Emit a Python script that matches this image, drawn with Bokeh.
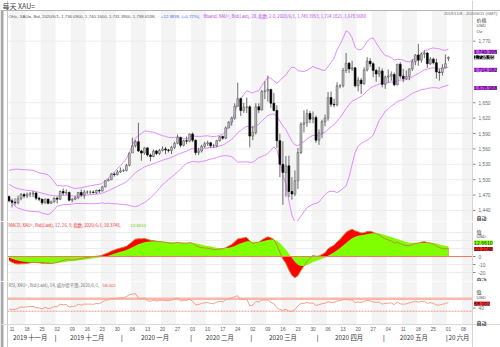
import numpy as np
import pandas as pd
from bokeh.plotting import figure
from bokeh.layouts import column
from bokeh.models import Range1d, Label, Span, ColumnDataSource
from bokeh.core.properties import value
from bokeh.embed import file_html
from bokeh.resources import INLINE

# ---------------- data ----------------
first_day = "2019-11-08"
last_day = "2020-06-01"
view_end = "2020-06-11"

opens = [1467,
 1459,1456,1455,1463,1471, 1468,1472,1472,1474,1464, 1462,1455,1462,1454,1457,
 1464,1462,1477,1474,1475, 1460,1462,1465,1475,1470, 1476,1476,1476,1475,1479,
 1478,1486,1498,1500,1511, 1510,1515,1517,1518,1528, 1552,1566,1574,1556,1552,
 1562,1548,1545,1556,1551, 1557,1560,1558,1557,1563, 1571,1582,1567,1576,1575,
 1589,1577,1553,1556,1565, 1570,1572,1566,1566,1576, 1584,1581,1601,1612,1620,
 1643,1658,1635,1641,1642, 1585,1592,1642,1636,1672, 1673,1676,1649,1635,1576,
 1530,1514,1527,1477,1472, 1498,1553,1608,1611,1629, 1618,1621,1577,1591,1613,
 1620,1660,1647,1646,1683, 1683,1713,1727,1716,1718, 1683,1694,1687,1714,1731,
 1726,1713,1706,1712,1686, 1700,1702,1705,1685,1725, 1702,1697,1701,1716,1730,
 1743,1733,1745,1747,1726, 1735,1728,1710,1709,1718, 1736.09]
highs = [1469,
 1463,1464,1469,1474,1474, 1475,1476,1478,1476,1467, 1463,1463,1463,1459,1466,
 1467,1479,1483,1481,1477, 1464,1468,1476,1481,1480, 1479,1479,1479,1481,1482,
 1488,1499,1502,1513,1514, 1519,1524,1521,1531,1553, 1582,1577,1611,1558,1563,
 1563,1551,1559,1558,1560, 1565,1564,1560,1566,1574, 1588,1584,1578,1584,1590,
 1592,1578,1562,1568,1574, 1576,1573,1570,1578,1585, 1586,1604,1614,1623,1649,
 1689,1660,1650,1660,1645, 1605,1649,1649,1675,1692, 1703,1677,1669,1645,1590,
 1575,1546,1547,1505,1518, 1562,1612,1635,1637,1634, 1633,1625,1598,1617,1627,
 1671,1672,1658,1690,1686, 1718,1747,1729,1732,1719, 1700,1698,1719,1739,1737,
 1729,1716,1720,1717,1703, 1715,1711,1709,1726,1729, 1716,1713,1717,1735,1745,
 1765,1748,1752,1749,1739, 1738,1736,1716,1725,1744, 1740.16]
lows = [1456,
 1446,1450,1452,1460,1464, 1464,1466,1466,1460,1458, 1451,1453,1452,1453,1455,
 1454,1460,1470,1471,1458, 1456,1460,1462,1466,1463, 1472,1472,1473,1472,1474,
 1477,1485,1497,1499,1506, 1508,1513,1515,1516,1526, 1552,1563,1554,1537,1549,
 1545,1536,1544,1548,1548, 1555,1550,1553,1550,1560, 1569,1563,1565,1569,1573,
 1573,1548,1548,1553,1562, 1566,1562,1562,1563,1574, 1578,1579,1600,1605,1617,
 1643,1624,1630,1630,1563, 1577,1588,1630,1635,1657, 1652,1640,1633,1562,1505,
 1451,1467,1466,1461,1468, 1482,1550,1592,1603,1610, 1610,1572,1568,1581,1604,
 1615,1642,1641,1643,1678, 1680,1708,1708,1712,1680, 1672,1667,1685,1711,1720,
 1700,1691,1700,1680,1677, 1689,1693,1682,1684,1697, 1690,1695,1694,1712,1723,
 1722,1728,1737,1718,1724, 1725,1697,1693,1703,1717, 1731.39]
closes = [1459,
 1456,1455,1463,1471,1468, 1472,1472,1474,1464,1462, 1455,1462,1454,1457,1464,
 1462,1477,1474,1475,1460, 1462,1465,1475,1470,1476, 1476,1476,1475,1479,1478,
 1486,1498,1500,1511,1510, 1515,1517,1518,1528,1552, 1566,1574,1556,1552,1562,
 1548,1545,1556,1551,1557, 1560,1558,1557,1563,1571, 1582,1567,1576,1575,1589,
 1577,1553,1556,1565,1570, 1572,1566,1566,1576,1584, 1581,1601,1612,1620,1643,
 1658,1635,1641,1642,1585, 1592,1642,1636,1672,1673, 1676,1649,1635,1576,1530,
 1514,1527,1477,1472,1498, 1553,1608,1611,1629,1618, 1621,1577,1591,1613,1620,
 1660,1647,1646,1683,1683, 1713,1727,1716,1718,1683, 1694,1687,1714,1731,1726,
 1713,1706,1712,1686,1700, 1702,1705,1685,1725,1702, 1697,1701,1716,1730,1743,
 1733,1745,1747,1726,1735, 1728,1710,1709,1718,1726.27, 1738.65]
# closes of the weeks before the window (indicator warm-up only, not drawn)
prior_closes = [1445,1440,1464,1474,1501,1500,1497,1511,1501,1516,1524,1513,1496,1506,1502,1498,
 1527,1527,1542,1539,1527,1520,
 1529,1547,1552,1519,1507,1499,1486,1497,1510,1488,1498,1502,1493,1506,1517,1522,1532,1504,
 1505,1497,1472,
 1479,1499,1506,1504,1493,1505,1506,1494,1488,1494,1482,1492,1492,1490,1484,1487,1492,1504,
 1505,1493,1487,1495,1513,
 1514,1509,1484,1490,1467]

month_labels = ["2019 十一月", "2019 十二月", "2020 一月", "2020 二月", "2020 三月", "2020 四月", "2020 五月", "20 六月"]
price_ticks = [1440, 1470, 1500, 1530, 1560, 1590, 1620, 1650, 1770]
price_tick_labels = ["1,440", "1,470", "1,500", "1,530", "1,560", "1,590", "1,620", "1,650", "1,770"]
macd_ticks = [-20, -10, 0]
rsi_ticks = [40]
rsi_bands = [70, 30]
bb_last = [1749.395, 1714.182, 1678.968]
last_close = 1738.65
macd_last, signal_last, rsi_last = 10.3748, 12.6610, 58.002

# ---------------- derived ----------------
dates = pd.bdate_range(first_day, last_day)
view_dates = pd.bdate_range(first_day, view_end)
n = len(dates)
xs = np.arange(n)
allc = np.array(prior_closes + closes, dtype=float)
s = pd.Series(allc)
ema20 = s.ewm(span=20, adjust=False).mean().values
bstd = np.full(len(allc), np.nan)
for t in range(19, len(allc)):
    dev = allc[t - 19:t + 1] - ema20[t]
    bstd[t] = np.sqrt((dev ** 2).sum() / 19)
mid = ema20[-n:]
upper = (ema20 + 2 * bstd)[-n:]
lower = (ema20 - 2 * bstd)[-n:]
ema12 = s.ewm(span=12, adjust=False).mean()
ema26 = s.ewm(span=26, adjust=False).mean()
macd_s = ema12 - ema26
sig = macd_s.ewm(span=9, adjust=False).mean().values[-n:]
macd = macd_s.values[-n:]
d = s.diff()
ag = d.clip(lower=0).ewm(alpha=1 / 14, adjust=False).mean()
al = (-d.clip(upper=0)).ewm(alpha=1 / 14, adjust=False).mean()
rsi = (100 - 100 / (1 + ag / al)).values[-n:]

o = np.array(opens, float); h = np.array(highs, float); l = np.array(lows, float); c = np.array(closes, float)
up = c >= o
src = ColumnDataSource(dict(x=xs, h=h, l=l, top=np.maximum(o, c), bot=np.minimum(o, c),
                            fill=np.where(up, "#c4c4c4", "#000000"),
                            line=np.where(up, "#5a5a5a", "#000000")))

mondays = [i for i, dd in enumerate(view_dates) if dd.weekday() == 0]
X0, X1 = -0.5, len(view_dates) - 1.0
week_left = [m - 0.5 for k, m in enumerate(mondays) if k % 2 == 0]
week_right = [min(m + 4.5, X1) for k, m in enumerate(mondays) if k % 2 == 0]
month_start = [i for i, dd in enumerate(view_dates) if i == 0 or dd.month != view_dates[i - 1].month]

W = 500
PLOT_L, PLOT_R = 7, 472          # pixel edges of the plotting area
PPU = (PLOT_R - PLOT_L) / (X1 - X0)
XL = X0 - PLOT_L / PPU
XR = X1 + (W - PLOT_R) / PPU
FONT = "Liberation Sans"
CJK = "Noto Sans CJK SC"


class Panel:
    def __init__(self, H, y_top_px, y_bot_px, v_top, v_bot):
        self.H = H
        scale = (y_bot_px - y_top_px) / (v_top - v_bot)
        self.k = scale
        top = v_top + y_top_px / scale
        bot = v_bot - (H - y_bot_px) / scale
        self.v_top, self.v_bot = v_top, v_bot
        p = figure(width=W, height=H, x_range=Range1d(XL, XR), y_range=Range1d(bot, top),
                   output_backend="svg", toolbar_location=None,
                   min_border=0, x_axis_location=None, y_axis_location=None)
        p.grid.visible = False
        p.outline_line_color = None
        p.background_fill_color = "white"
        p.border_fill_color = "white"
        p.quad(left=week_left, right=week_right, bottom=v_bot, top=v_top,
               fill_color="#f4f4f4", line_color=None, level="underlay")
        self.p = p

    def y(self, Y):
        return self.p.y_range.end - Y / self.k

    def grid(self, ticks):
        self.p.segment(x0=[X0] * len(ticks), x1=[X1] * len(ticks), y0=ticks, y1=ticks,
                       line_color="#ececec", line_width=1, level="underlay")

    def axis(self, ticks, labels, size=4.8, color="#6a6a6a"):
        p = self.p
        p.segment(x0=[X1] * len(ticks), x1=[X1 + 3 / PPU] * len(ticks), y0=ticks, y1=ticks,
                  line_color="#888888", line_width=1)
        p.text(x=[X1 + 6 / PPU] * len(ticks), y=ticks, text=labels, text_font=value(FONT),
               text_font_size=value(f"{size}px"), text_color=color, text_align="left",
               text_baseline="middle")

    def lab(self, x, Y, text, size=4.8, color="#555555", align="left", bg=None, font=FONT,
            style="normal", xdata=False, ydata=False):
        lb = Label(x=x, y=(Y if ydata else self.H - Y), x_units=("data" if xdata else "screen"),
                   y_units=("data" if ydata else "screen"), text=text, text_font=font,
                   text_font_size=f"{size}px", text_color=color, text_align=align,
                   text_baseline="middle", text_font_style=style)
        if bg is not None:
            lb.background_fill_color = bg
        self.p.add_layout(lb)

    def frame(self, top_line=False):
        p = self.p
        p.add_layout(Span(location=X1, dimension="height", line_color="#d4d4d4", line_width=1))
        p.add_layout(Span(location=X0, dimension="height", line_color="#c8c8c8", line_width=1))
        p.add_layout(Span(location=self.v_bot, dimension="width", line_color="#d8d8d8", line_width=1))
        if top_line:
            p.add_layout(Span(location=self.v_top, dimension="width", line_color="#b4b4b4", line_width=1))
        p.quad(left=[XL], right=[XL + 3 / PPU], bottom=[self.v_bot if top_line else self.p.y_range.start],
               top=[self.v_top if top_line else self.p.y_range.end], fill_color="#a8a8a8", line_color=None)


# ---------------- main price panel ----------------
P1 = Panel(221, 10, 221, 1829.8, 1418.5)
p1 = P1.p
P1.grid(price_ticks)
p1.line(xs, upper, color="#df8cff", line_width=1)
p1.line(xs, mid, color="#df8cff", line_width=1)
p1.line(xs, lower, color="#df8cff", line_width=1)
p1.segment(x0="x", y0="h", x1="x", y1="l", source=src, line_color="#6a6a6a", line_width=1)
p1.vbar(x="x", width=0.62, top="top", bottom="bot", source=src, fill_color="fill", line_color="line",
        line_width=0.6)
P1.frame(top_line=True)
P1.axis(price_ticks, price_tick_labels)
P1.lab(2, 5, "每天 XAU=", size=7, color="#444444", font=CJK)
P1.lab(497, 13, "2019/11/8 - 2020/6/11 (GMT)", size=4.2, color="#666666", align="right")
P1.lab(8, 15.5, "Ohlc, XAU=, Bid, 2020/6/1, 1,736.0900, 1,740.1600, 1,731.3900, 1,738.6538,",
       size=4.3, color="#555555")
P1.lab(160.5, 15.5, "+12.3838, (+0.72%),", size=4.3, color="#3f5fff")
P1.lab(203, 15.5, "Bband, XAU=, Bid(Last), 20, 指数, 2.0, 2020/6/1, 1,749.3953, 1,714.1821, 1,678.9680",
       size=4.3, color="#bb44ee", font=CJK)
P1.lab(476, 19, "价格", size=5, color="#333333", font=CJK)
P1.lab(476, 25, "USD", size=4.4, color="#444444")
P1.lab(476, 31, "Oz", size=4.4, color="#444444")
P1.lab(476, 216.5, "自动", size=5, color="#333333", font=CJK, style="bold")
for v, bg, col, txt in [(bb_last[0], "#cc44ff", "#111111", f"{bb_last[0]:,.3f}"),
                        (last_close, "#000000", "#ffffff", f"{last_close:,.2f}"),
                        (bb_last[1], "#cc44ff", "#111111", f"{bb_last[1]:,.3f}"),
                        (bb_last[2], "#cc44ff", "#111111", f"{bb_last[2]:,.3f}")]:
    P1.lab(473.5, v, txt, size=5.2, color=col, bg=bg, ydata=True)

# ---------------- MACD panel ----------------
P2 = Panel(60, 0, 60, 43.75, -31.25)
p2 = P2.p
P2.grid([-20, -10, 0, 10, 20, 30])
p2.varea(x=xs, y1=0, y2=macd, fill_color="#ff0000")
p2.varea(x=xs, y1=0, y2=sig, fill_color="#80ff00")
p2.line(xs, macd, color="#c8843c", line_width=1)
p2.segment(x0=[X0], x1=[X1], y0=[0], y1=[0], line_color="#f07a60", line_width=1.2)
P2.frame()
P2.axis(macd_ticks, [str(t) for t in macd_ticks])
P2.lab(8, 3.5, "MACD, XAU=, Bid(Last), 12, 26, 9, 指数, 2020/6/1, 10.3748,", size=4.3, color="#ee3333", font=CJK)
P2.lab(130, 3.5, "12.6610", size=4.3, color="#66cc00")
P2.lab(476, 9.5, "值", size=5, color="#333333", font=CJK)
P2.lab(476, 15, "USD", size=4.4, color="#444444")
P2.lab(473.5, 21, f"{signal_last:.4f}", size=5.2, color="#224400", bg="#80ff00")
P2.lab(473.5, 27.5, f"{macd_last:.4f}", size=5.2, color="#111111", bg="#ff2020")
P2.lab(476, 57.5, "自动", size=5, color="#333333", font=CJK, style="bold")

# ---------------- RSI panel ----------------
P3 = Panel(66, 0, 43, 125.8, -12.9)
p3 = P3.p
p3.segment(x0=[X0], x1=[X1], y0=[rsi_bands[0]], y1=[rsi_bands[0]], line_color="#f9b8aa", line_width=2.5)
p3.segment(x0=[X0], x1=[X1], y0=[rsi_bands[1]], y1=[rsi_bands[1]], line_color="#f19585", line_width=1,
           line_dash="2 1")
p3.line(xs, rsi, color="#f3a088", line_width=1)
P3.frame()
P3.axis(rsi_ticks, [str(t) for t in rsi_ticks])
P3.lab(8, 3.5, "RSI, XAU=, Bid(Last), 14, 威尔德平滑, 2020/6/1,", size=4.3, color="#777777", font=CJK)
P3.lab(102, 3.5, f"{rsi_last:.3f}", size=4.3, color="#ee5544")
P3.lab(476, 10, "值", size=5, color="#333333", font=CJK)
P3.lab(476, 16, "USD", size=4.4, color="#444444")
P3.lab(473.5, 22, f"{rsi_last:.3f}", size=5.2, color="#111111", bg="#ff2a2a")
P3.lab(476, 41, "自动", size=5, color="#333333", font=CJK, style="bold")
p3.text(x=mondays, y=[P3.y(47.5)] * len(mondays), text=[view_dates[m].strftime("%d") for m in mondays],
        text_font=value(FONT), text_font_size=value("4.6px"), text_color="#555555",
        text_align="center", text_baseline="middle")
bounds = month_start + [len(view_dates)]
for k, ms in enumerate(month_start):
    if k < len(month_start) - 1:
        cx = (bounds[k] + bounds[k + 1]) / 2 - 1.0
        P3.lab(cx, 56, month_labels[k], size=6.3, color="#333333", align="center", font=CJK, xdata=True)
    else:
        P3.lab(ms, 56, month_labels[k], size=6.3, color="#333333", align="left", font=CJK, xdata=True)
    if k > 0:
        P3.lab(ms - 0.5, 56, "|", size=6.3, color="#333333", align="center", xdata=True)

layout = column(p1, p2, p3, spacing=0)
open("out.html", "w").write(file_html(layout, INLINE))
